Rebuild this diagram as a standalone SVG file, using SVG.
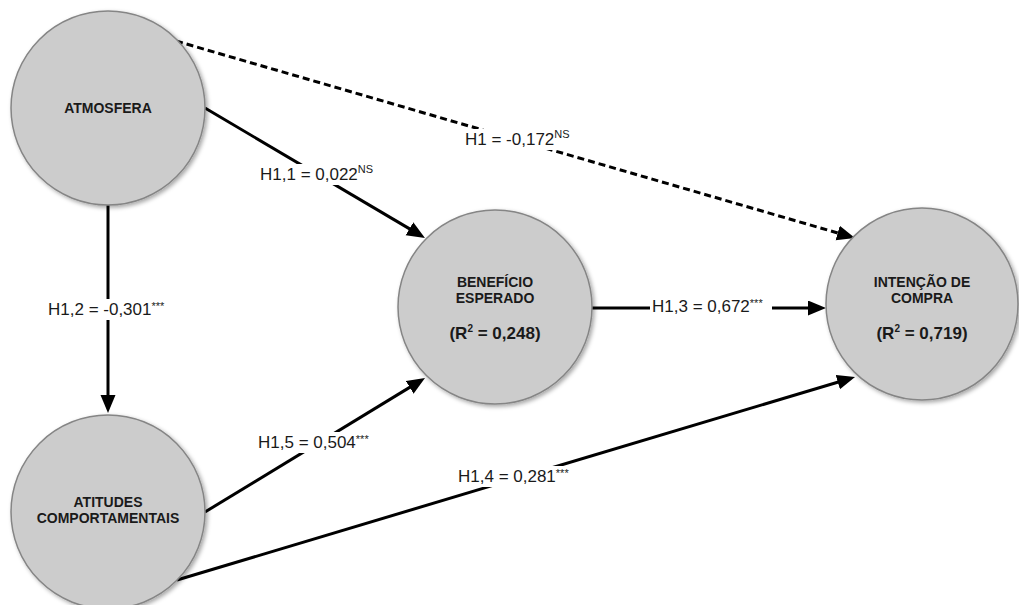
<svg xmlns="http://www.w3.org/2000/svg" width="1019" height="605" viewBox="0 0 1019 605">
<defs>
<filter id="sh" x="-20%" y="-20%" width="140%" height="140%">
<feDropShadow dx="2" dy="2" stdDeviation="2" flood-color="#000" flood-opacity="0.35"/>
</filter>
<marker id="arr" markerUnits="userSpaceOnUse" markerWidth="20" markerHeight="16" refX="12" refY="7.5" orient="auto">
<path d="M0,0 L18,7.5 L0,15 z" fill="#000"/>
</marker>
<style>
.node{fill:#cccccc;stroke:#858585;stroke-width:1.5;filter:url(#sh)}
.nt{font-family:"Liberation Sans",Arial,sans-serif;font-weight:bold;font-size:14px;fill:#1a1a1a;text-anchor:middle}
.r2{font-family:"Liberation Sans",Arial,sans-serif;font-weight:bold;font-size:17px;fill:#1a1a1a;text-anchor:middle}
.edge{stroke:#000;stroke-width:3;fill:none;marker-end:url(#arr)}
.dash{stroke-dasharray:7 4}
.bg{fill:#fff}
.lbl{font-family:"Liberation Sans",Arial,sans-serif;font-size:17px;fill:#1a1a1a}
.sup{font-size:11px}
</style>
</defs>
<g id="connectors">
<line class="edge dash" x1="176" y1="41" x2="849.2" y2="236.3"/>
<line class="edge" x1="205" y1="108" x2="419.8" y2="234.9"/>
<line class="edge" x1="108" y1="205" x2="108" y2="407"/>
<line class="edge" x1="592" y1="308" x2="820" y2="308"/>
<line class="edge" x1="205" y1="512" x2="419.9" y2="381.1"/>
<line class="edge" x1="177" y1="580" x2="849.3" y2="378.7"/>
<rect class="bg" x="463" y="129" width="112" height="21"/>
<rect class="bg" x="258" y="164" width="118" height="21"/>
<rect class="bg" x="46" y="299" width="126" height="21"/>
<rect class="bg" x="650" y="296" width="122" height="21"/>
<rect class="bg" x="256" y="432" width="122" height="21"/>
<rect class="bg" x="456" y="466" width="122" height="21"/>
<text class="lbl" x="465" y="145">H1 = -0,172<tspan class="sup" dy="-7">NS</tspan></text>
<text class="lbl" x="260" y="180">H1,1 = 0,022<tspan class="sup" dy="-7">NS</tspan></text>
<text class="lbl" x="48" y="315">H1,2 = -0,301<tspan class="sup" dy="-5">***</tspan></text>
<text class="lbl" x="652" y="312">H1,3 = 0,672<tspan class="sup" dy="-5">***</tspan></text>
<text class="lbl" x="258" y="448">H1,5 = 0,504<tspan class="sup" dy="-5">***</tspan></text>
<text class="lbl" x="458" y="482">H1,4 = 0,281<tspan class="sup" dy="-5">***</tspan></text>
</g>
<g id="atmosfera">
<circle class="node" cx="108" cy="108" r="97"/>
<text class="nt" x="108" y="113">ATMOSFERA</text>
</g>
<g id="atitudes">
<circle class="node" cx="108" cy="512" r="97"/>
<text class="nt" x="108" y="507">ATITUDES</text>
<text class="nt" x="108" y="523">COMPORTAMENTAIS</text>
</g>
<g id="beneficio">
<circle class="node" cx="495" cy="307" r="97"/>
<text class="nt" x="495" y="287">BENEFÍCIO</text>
<text class="nt" x="495" y="303">ESPERADO</text>
<text class="r2" x="495" y="339">(R<tspan font-size="10" dy="-7">2</tspan><tspan dy="7"> = 0,248)</tspan></text>
</g>
<g id="intencao">
<circle class="node" cx="922" cy="304" r="96"/>
<text class="nt" x="922" y="287">INTENÇÃO DE</text>
<text class="nt" x="922" y="303">COMPRA</text>
<text class="r2" x="922" y="339">(R<tspan font-size="10" dy="-7">2</tspan><tspan dy="7"> = 0,719)</tspan></text>
</g>
</svg>
